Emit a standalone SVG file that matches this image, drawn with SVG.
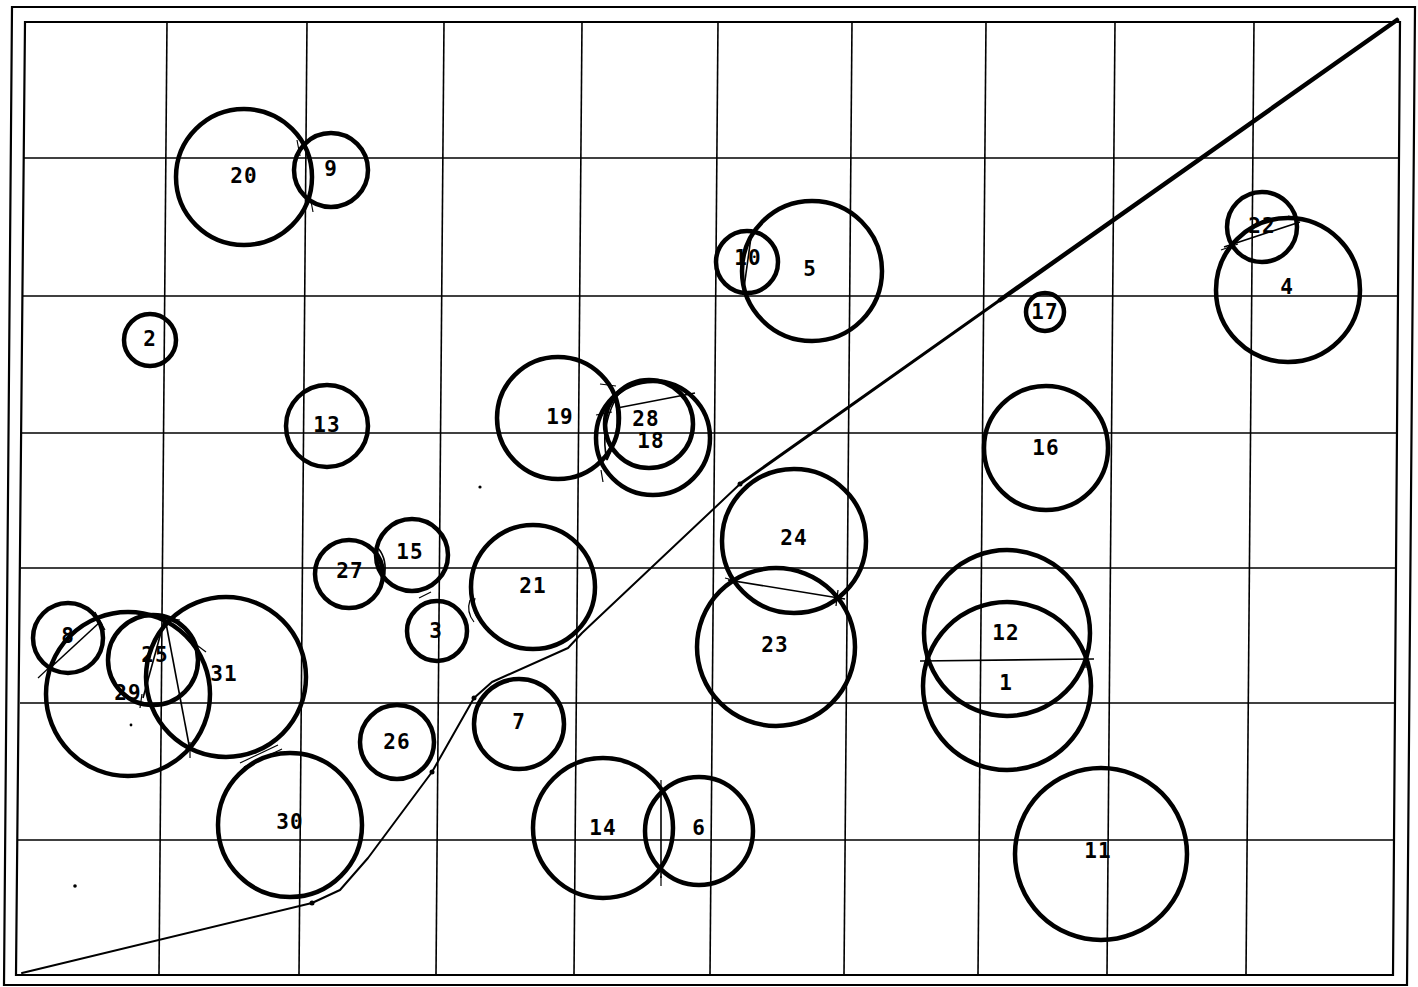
<svg xmlns="http://www.w3.org/2000/svg" width="1418" height="987" viewBox="0 0 1418 987">
<style>
.grid{stroke:#000;stroke-width:1.6;fill:none}
.frame{stroke:#000;stroke-width:2.2;fill:none}
.c{fill:none;stroke:#000;stroke-width:4.5}
.ch{stroke:#000;stroke-width:1.6;fill:none}
.tk{stroke:#000;stroke-width:1.2;fill:none}
.lbl{font-family:"DejaVu Sans Mono","Liberation Mono",monospace;font-weight:bold;font-size:21px;letter-spacing:1px;text-anchor:middle;dominant-baseline:central;fill:#000}
.path{stroke:#000;fill:none;stroke-linejoin:round;stroke-linecap:round}
</style>
<rect width="1418" height="987" fill="#fff"/>
<g id="frame">
<polygon class="frame" points="12,7 1415,7 1407,985 4,985"/>
<polygon class="frame" points="25,22 1400,22 1393,975 16,975"/>
</g>
<g id="grid">
<line class="grid" x1="167" y1="22" x2="159" y2="975"/>
<line class="grid" x1="307" y1="22" x2="299" y2="975"/>
<line class="grid" x1="444" y1="22" x2="436" y2="975"/>
<line class="grid" x1="582" y1="22" x2="574" y2="975"/>
<line class="grid" x1="718" y1="22" x2="710" y2="975"/>
<line class="grid" x1="852" y1="22" x2="844" y2="975"/>
<line class="grid" x1="986" y1="22" x2="978" y2="975"/>
<line class="grid" x1="1115" y1="22" x2="1107" y2="975"/>
<line class="grid" x1="1254" y1="22" x2="1246" y2="975"/>
<line class="grid" x1="24" y1="158" x2="1399" y2="158"/>
<line class="grid" x1="23" y1="296" x2="1398" y2="296"/>
<line class="grid" x1="22" y1="433" x2="1397" y2="433"/>
<line class="grid" x1="21" y1="568" x2="1396" y2="568"/>
<line class="grid" x1="20" y1="703" x2="1395" y2="703"/>
<line class="grid" x1="18" y1="840" x2="1394" y2="840"/>
</g>
<g id="connectors">
<polyline class="path" stroke-width="2" points="22,973 312,903 340,890 368,858 432,772 474,698 492,682 568,648 582,633 740,484"/>
<line class="path" stroke-width="3" x1="740" y1="484" x2="1000" y2="300"/>
<line class="path" stroke-width="4.5" x1="1000" y1="300" x2="1397" y2="20"/>
<circle cx="312" cy="903" r="2.5"/>
<circle cx="432" cy="772" r="2.5"/>
<circle cx="474" cy="698" r="2.5"/>
<circle cx="740" cy="484" r="2.5"/>
<line class="ch" x1="920" y1="661" x2="1094" y2="659" stroke-width="2"/>
<line class="ch" x1="728" y1="580" x2="845" y2="599"/>
<line class="ch" x1="617" y1="408" x2="695" y2="393"/>
<line class="ch" x1="1224" y1="247" x2="1300" y2="222" stroke-width="2.5"/>
<line class="ch" x1="165" y1="618" x2="190" y2="750"/>
<line class="ch" x1="165" y1="618" x2="143" y2="698"/>
<line class="ch" x1="48" y1="670" x2="100" y2="622" stroke-width="3.5"/>
<line class="ch" x1="661" y1="790" x2="661" y2="878"/>
<line class="ch" x1="752" y1="230" x2="743" y2="295"/>
<path class="ch" stroke-width="2.5" d="M615,400 Q600,430 607,460 M615,400 Q622,430 607,460"/>
<path class="ch" stroke-width="3" d="M378,548 Q388,560 384,578"/>
<line class="tk" x1="240" y1="763" x2="278" y2="745" stroke-width="2"/>
<line class="tk" x1="244" y1="767" x2="282" y2="749" stroke-width="2"/>
<line class="tk" x1="419" y1="598" x2="431" y2="592" stroke-width="2"/>
<path class="tk" stroke-width="1.8" d="M470,600 Q466,612 474,622 M475,598 Q471,610 479,620"/>
<line class="tk" x1="297" y1="140" x2="300" y2="156"/>
<line class="tk" x1="310" y1="196" x2="313" y2="212"/>
<line class="tk" x1="600" y1="384" x2="616" y2="386"/>
<line class="tk" x1="596" y1="415" x2="612" y2="412"/>
<line class="tk" x1="601" y1="470" x2="603" y2="482"/>
<line class="tk" x1="926" y1="652" x2="926" y2="670"/>
<line class="tk" x1="1086" y1="650" x2="1086" y2="668"/>
<line class="tk" x1="838" y1="590" x2="836" y2="606"/>
<line class="tk" x1="725" y1="578" x2="740" y2="582"/>
<line class="tk" x1="38" y1="678" x2="55" y2="662"/>
<line class="tk" x1="95" y1="612" x2="105" y2="630"/>
<line class="tk" x1="140" y1="615" x2="180" y2="620"/>
<line class="tk" x1="190" y1="640" x2="206" y2="652"/>
<line class="tk" x1="142" y1="694" x2="140" y2="708"/>
<line class="tk" x1="190" y1="742" x2="190" y2="758"/>
<line class="tk" x1="661" y1="780" x2="661" y2="792"/>
<line class="tk" x1="661" y1="876" x2="661" y2="886"/>
<line class="tk" x1="1221" y1="250" x2="1238" y2="244"/>
<line class="tk" x1="1288" y1="216" x2="1305" y2="219"/>
<circle cx="480" cy="487" r="1.6"/>
<circle cx="75" cy="886" r="1.8"/>
<circle cx="131" cy="725" r="1.4"/>
</g>
<g id="n20"><circle class="c" cx="244" cy="177" r="68"/><text class="lbl" x="244" y="176">20</text></g>
<g id="n9"><circle class="c" cx="331" cy="170" r="37"/><text class="lbl" x="331" y="169">9</text></g>
<g id="n2"><circle class="c" cx="150" cy="340" r="26"/><text class="lbl" x="150" y="339">2</text></g>
<g id="n13"><circle class="c" cx="327" cy="426" r="41"/><text class="lbl" x="327" y="425">13</text></g>
<g id="n10"><circle class="c" cx="747" cy="262" r="31"/><text class="lbl" x="748" y="258">10</text></g>
<g id="n5"><circle class="c" cx="812" cy="271" r="70"/><text class="lbl" x="810" y="269">5</text></g>
<g id="n22"><circle class="c" cx="1262" cy="227" r="35"/><text class="lbl" x="1262" y="226">22</text></g>
<g id="n4"><circle class="c" cx="1288" cy="290" r="72"/><text class="lbl" x="1287" y="287">4</text></g>
<g id="n17"><circle class="c" cx="1045" cy="312" r="19"/><text class="lbl" x="1045" y="312">17</text></g>
<g id="n16"><circle class="c" cx="1046" cy="448" r="62"/><text class="lbl" x="1046" y="448">16</text></g>
<g id="n19"><circle class="c" cx="558" cy="418" r="61"/><text class="lbl" x="560" y="417">19</text></g>
<g id="n28"><circle class="c" cx="649" cy="424" r="44"/><text class="lbl" x="646" y="419">28</text></g>
<g id="n18"><circle class="c" cx="653" cy="438" r="57"/><text class="lbl" x="651" y="441">18</text></g>
<g id="n24"><circle class="c" cx="794" cy="541" r="72"/><text class="lbl" x="794" y="538">24</text></g>
<g id="n23"><circle class="c" cx="776" cy="647" r="79"/><text class="lbl" x="775" y="645">23</text></g>
<g id="n21"><circle class="c" cx="533" cy="587" r="62"/><text class="lbl" x="533" y="586">21</text></g>
<g id="n27"><circle class="c" cx="349" cy="574" r="34"/><text class="lbl" x="350" y="571">27</text></g>
<g id="n15"><circle class="c" cx="412" cy="555" r="36"/><text class="lbl" x="410" y="552">15</text></g>
<g id="n3"><circle class="c" cx="437" cy="631" r="30"/><text class="lbl" x="436" y="631">3</text></g>
<g id="n8"><circle class="c" cx="68" cy="638" r="35"/><text class="lbl" x="68" y="636">8</text></g>
<g id="n25"><circle class="c" cx="153" cy="660" r="45"/><text class="lbl" x="155" y="655">25</text></g>
<g id="n29"><circle class="c" cx="128" cy="694" r="82"/><text class="lbl" x="128" y="693">29</text></g>
<g id="n31"><circle class="c" cx="226" cy="677" r="80"/><text class="lbl" x="224" y="674">31</text></g>
<g id="n26"><circle class="c" cx="397" cy="742" r="37"/><text class="lbl" x="397" y="742">26</text></g>
<g id="n7"><circle class="c" cx="519" cy="724" r="45"/><text class="lbl" x="519" y="722">7</text></g>
<g id="n30"><circle class="c" cx="290" cy="825" r="72"/><text class="lbl" x="290" y="822">30</text></g>
<g id="n14"><circle class="c" cx="603" cy="828" r="70"/><text class="lbl" x="603" y="828">14</text></g>
<g id="n6"><circle class="c" cx="699" cy="831" r="54"/><text class="lbl" x="699" y="828">6</text></g>
<g id="n12"><circle class="c" cx="1007" cy="633" r="83"/><text class="lbl" x="1006" y="633">12</text></g>
<g id="n1"><circle class="c" cx="1007" cy="686" r="84"/><text class="lbl" x="1006" y="683">1</text></g>
<g id="n11"><circle class="c" cx="1101" cy="854" r="86"/><text class="lbl" x="1098" y="851">11</text></g>
</svg>
